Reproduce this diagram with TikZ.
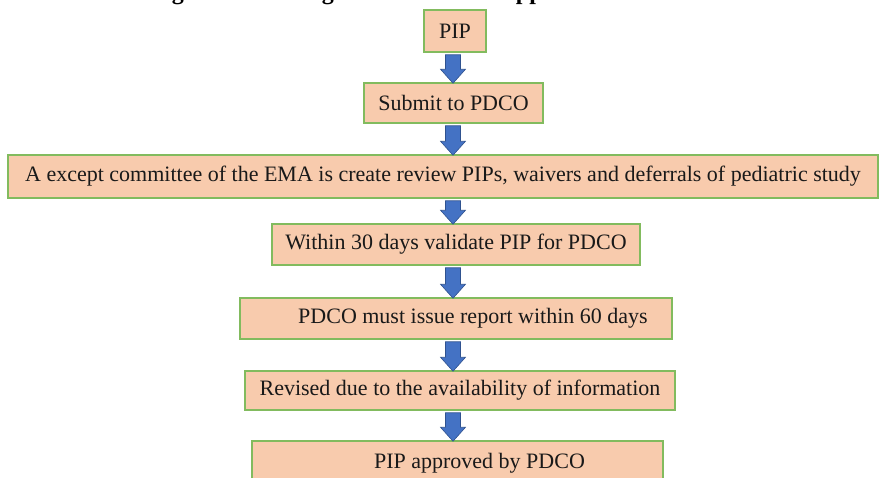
\documentclass[tikz,border=0pt]{standalone}
\usepackage{fontspec}
\setmainfont{Liberation Serif}
\usetikzlibrary{calc}
\definecolor{boxfill}{HTML}{F8CBAD}
\definecolor{boxline}{HTML}{82BB5E}
\definecolor{arrfill}{HTML}{4472C4}
\definecolor{arrline}{HTML}{2F528F}
\tikzset{
  stepbox/.style={draw=boxline, line width=1.5pt, fill=boxfill, inner sep=0pt,
    font=\fontsize{22}{24}\selectfont, text=black!90},
  blockarr/.style={fill=arrfill, draw=arrline, line width=0.6pt, line join=miter},
}
\newcommand\blockarrow[2]{%
  \draw[blockarr] let \p1=($(#1.south -| ax)+(0,-2pt)$), \p2=($(#2.north -| ax)+(0,-1pt)$) in
    (\x1-7.5pt,\y1) -- (\x1+7.5pt,\y1) -- (\x1+7.5pt,\y2+14pt) -- (\x1+12.5pt,\y2+14pt)
    -- (\x2,\y2) -- (\x1-12.5pt,\y2+14pt) -- (\x1-7.5pt,\y2+14pt) -- cycle;}
\begin{document}
\begin{tikzpicture}
\path[use as bounding box] (0,0) rectangle (880pt,-477pt);
\clip (0,0) rectangle (880pt,-477pt);
\fill[white] (0,0) rectangle (880pt,-477pt);
\coordinate (ax) at (453pt,0);
\node[font=\bfseries\fontsize{24}{26}\selectfont, anchor=base west, inner sep=0pt] (title) at (3pt,0.5pt)
  {Pediatric Investigation Planning submission and approval in the EU};
\node[stepbox, minimum width=62pt, minimum height=42pt] (n1) at (455pt,-31pt) {PIP};
\node[stepbox, minimum width=179pt, minimum height=40pt] (n2) at (453.5pt,-103pt) {Submit to PDCO};
\node[stepbox, minimum width=870pt, minimum height=43pt] (n3) at (443pt,-176.5pt)
  {A except committee of the EMA is create review PIPs, waivers and deferrals of pediatric study};
\node[stepbox, minimum width=368pt, minimum height=41pt] (n4) at (456pt,-244.5pt) {Within 30 days validate PIP for PDCO};
\node[stepbox, minimum width=432pt, minimum height=41pt] (n5) at (456pt,-318.5pt) {\hspace*{34pt}PDCO must issue report within 60 days};
\node[stepbox, minimum width=430pt, minimum height=39pt] (n6) at (460pt,-390.5pt) {Revised due to the availability of information};
\node[stepbox, minimum width=411pt, minimum height=44pt] (n7) at (457.5pt,-463pt) {\hspace*{44pt}PIP approved by PDCO};
\blockarrow{n1}{n2}
\blockarrow{n2}{n3}
\blockarrow{n3}{n4}
\blockarrow{n4}{n5}
\blockarrow{n5}{n6}
\blockarrow{n6}{n7}
\end{tikzpicture}
\end{document}
